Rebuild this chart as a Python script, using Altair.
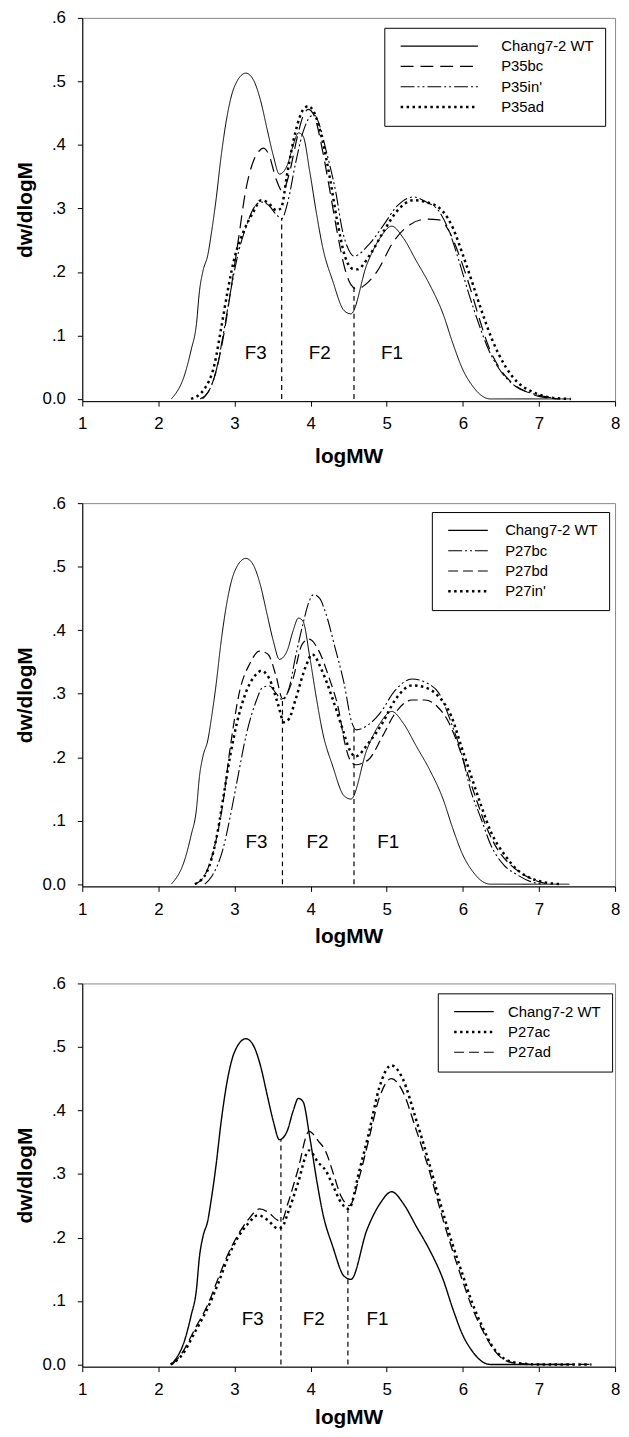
import altair as alt
import pandas as pd

FONT = "Liberation Sans"

X_TICKS = [1, 2, 3, 4, 5, 6, 7, 8]
Y_TICKS = [0.0, 0.1, 0.2, 0.3, 0.4, 0.5, 0.6]
F_LABELS = ["F3", "F2", "F1"]

# ---- Chang7-2 WT (same in all panels)
wt_x = [2.17, 2.35, 2.43, 2.50, 2.54, 2.585, 2.65, 2.70, 2.76, 2.82, 2.91, 3.0, 3.15, 3.25,
        3.34, 3.43, 3.51, 3.59, 3.69, 3.77, 3.84, 3.90, 3.99, 4.08, 4.16, 4.29, 4.44, 4.53,
        4.74, 4.91, 5.065, 5.22, 5.39, 5.56, 5.74, 5.87, 6.0, 6.13, 6.26, 6.36, 7.4]
wt_y = [0.0, 0.040, 0.077, 0.118, 0.170, 0.201, 0.227, 0.264, 0.316, 0.378, 0.450, 0.492, 0.513, 0.502,
        0.471, 0.424, 0.383, 0.354, 0.367, 0.399, 0.419, 0.414, 0.357, 0.290, 0.238, 0.186, 0.139, 0.134,
        0.212, 0.253, 0.272, 0.253, 0.217, 0.181, 0.134, 0.087, 0.046, 0.020, 0.004, 0.0, 0.0]

# ---- panel 1
p35bc_x = [2.55, 2.65, 2.75, 2.85, 2.95, 3.05, 3.15, 3.25, 3.32, 3.38, 3.45, 3.55, 3.63, 3.72, 3.82,
           3.9, 3.97, 4.05, 4.15, 4.25, 4.35, 4.45, 4.53, 4.61, 4.72, 4.87, 5.09, 5.30, 5.52, 5.69,
           5.82, 5.95, 6.08, 6.21, 6.34, 6.47, 6.65, 6.82, 7.0, 7.25]
p35bc_y = [0.0, 0.01, 0.04, 0.095, 0.17, 0.25, 0.33, 0.375, 0.39, 0.395, 0.385, 0.345, 0.327, 0.355, 0.41,
           0.445, 0.456, 0.445, 0.395, 0.33, 0.262, 0.205, 0.18, 0.173, 0.18, 0.20, 0.248, 0.274, 0.283, 0.282,
           0.264, 0.227, 0.181, 0.129, 0.082, 0.051, 0.025, 0.012, 0.004, 0.0]
p35in_x = [2.58, 2.65, 2.75, 2.85, 2.95, 3.05, 3.15, 3.25, 3.35, 3.45, 3.55, 3.62, 3.7, 3.8, 3.9, 4.0,
           4.05, 4.12, 4.2, 4.33, 4.42, 4.5, 4.57, 4.78, 4.96, 5.13, 5.35, 5.52, 5.69, 5.82, 5.95, 6.08,
           6.21, 6.34, 6.52, 6.69, 6.9, 7.07, 7.25]
p35in_y = [0.0, 0.01, 0.04, 0.10, 0.17, 0.23, 0.27, 0.30, 0.31, 0.305, 0.29, 0.284, 0.31, 0.37, 0.42, 0.445,
           0.447, 0.43, 0.393, 0.326, 0.264, 0.235, 0.225, 0.245, 0.274, 0.303, 0.318, 0.310, 0.295, 0.264, 0.217, 0.165,
           0.118, 0.077, 0.040, 0.020, 0.009, 0.004, 0.0]
p35ad_x = [2.43, 2.6, 2.74, 2.82, 2.91, 3.0, 3.12, 3.25, 3.35, 3.45, 3.55, 3.61, 3.7, 3.8, 3.9, 3.97,
           4.05, 4.15, 4.25, 4.35, 4.45, 4.55, 4.61, 4.78, 4.96, 5.13, 5.35, 5.52, 5.74, 5.87, 6.0, 6.13,
           6.26, 6.39, 6.56, 6.73, 6.9, 7.08, 7.25, 7.42]
p35ad_y = [0.0, 0.015, 0.056, 0.108, 0.170, 0.222, 0.264, 0.295, 0.313, 0.308, 0.297, 0.30, 0.36, 0.42, 0.455, 0.461,
           0.45, 0.41, 0.35, 0.28, 0.225, 0.205, 0.204, 0.227, 0.264, 0.295, 0.313, 0.310, 0.295, 0.269, 0.227, 0.181,
           0.134, 0.092, 0.051, 0.025, 0.012, 0.004, 0.001, 0.0]

# ---- panel 2
p27bc_x = [2.61, 2.7, 2.85, 2.95, 3.03, 3.16, 3.29, 3.37, 3.46, 3.55, 3.63, 3.72, 3.8, 3.9, 3.98, 4.04,
           4.12, 4.19, 4.32, 4.44, 4.54, 4.6, 4.76, 4.91, 5.11, 5.33, 5.54, 5.69, 5.85, 5.98, 6.1, 6.24,
           6.37, 6.54, 6.71, 6.89, 7.06]
p27bc_y = [0.0, 0.012, 0.056, 0.11, 0.16, 0.238, 0.29, 0.31, 0.312, 0.30, 0.29, 0.31, 0.357, 0.41, 0.445, 0.456,
           0.45, 0.43, 0.373, 0.316, 0.255, 0.243, 0.251, 0.269, 0.305, 0.323, 0.316, 0.30, 0.253, 0.207, 0.149, 0.103,
           0.061, 0.030, 0.015, 0.004, 0.0]
p27bd_x = [2.48, 2.6, 2.72, 2.85, 2.94, 3.07, 3.2, 3.33, 3.44, 3.55, 3.63, 3.76, 3.89, 3.98, 4.11, 4.24,
           4.37, 4.45, 4.52, 4.59, 4.76, 4.94, 5.11, 5.33, 5.5, 5.67, 5.8, 5.93, 6.06, 6.19, 6.32, 6.45,
           6.63, 6.8, 6.97, 7.15]
p27bd_y = [0.0, 0.012, 0.051, 0.129, 0.212, 0.305, 0.347, 0.367, 0.362, 0.326, 0.292, 0.32, 0.378, 0.386, 0.367, 0.326,
           0.274, 0.222, 0.195, 0.188, 0.196, 0.232, 0.269, 0.29, 0.29, 0.279, 0.258, 0.222, 0.175, 0.129, 0.087, 0.056,
           0.030, 0.015, 0.005, 0.0]
p27in_x = [2.48, 2.64, 2.77, 2.85, 2.94, 3.03, 3.16, 3.29, 3.35, 3.46, 3.57, 3.65, 3.72, 3.8, 3.94, 4.02,
           4.15, 4.28, 4.41, 4.52, 4.59, 4.76, 4.94, 5.11, 5.33, 5.5, 5.67, 5.85, 5.98, 6.11, 6.24, 6.37,
           6.55, 6.72, 6.9, 7.07, 7.29]
p27in_y = [0.0, 0.02, 0.077, 0.134, 0.20, 0.253, 0.305, 0.331, 0.336, 0.323, 0.284, 0.255, 0.261, 0.29, 0.344, 0.362,
           0.336, 0.295, 0.248, 0.21, 0.201, 0.222, 0.253, 0.29, 0.313, 0.31, 0.297, 0.264, 0.217, 0.170, 0.124, 0.082,
           0.046, 0.022, 0.009, 0.003, 0.0]

# ---- panel 3
p27ac_x = [2.16, 2.31, 2.48, 2.66, 2.79, 2.92, 3.05, 3.18, 3.31, 3.44, 3.57, 3.63, 3.7, 3.83, 3.98, 4.1,
           4.2, 4.3, 4.4, 4.5, 4.64, 4.77, 4.9, 5.06, 5.21, 5.38, 5.56, 5.73, 5.86, 5.99, 6.12, 6.25,
           6.38, 6.51, 6.69, 6.99, 7.69]
p27ac_y = [0.0, 0.015, 0.051, 0.092, 0.129, 0.170, 0.201, 0.222, 0.235, 0.227, 0.214, 0.217, 0.238, 0.284, 0.337, 0.318,
           0.305, 0.28, 0.255, 0.245, 0.305, 0.367, 0.435, 0.471, 0.45, 0.388, 0.316, 0.243, 0.191, 0.144, 0.098, 0.061,
           0.030, 0.012, 0.003, 0.0, 0.0]
p27ad_x = [2.18, 2.31, 2.48, 2.66, 2.79, 2.92, 3.05, 3.18, 3.33, 3.44, 3.57, 3.62, 3.7, 3.83, 3.98, 4.1,
           4.2, 4.3, 4.4, 4.51, 4.64, 4.77, 4.9, 5.06, 5.21, 5.38, 5.56, 5.73, 5.86, 5.99, 6.12, 6.25,
           6.38, 6.51, 6.69, 6.99, 7.69]
p27ad_y = [0.0, 0.018, 0.056, 0.097, 0.137, 0.175, 0.205, 0.228, 0.245, 0.24, 0.227, 0.226, 0.253, 0.305, 0.367, 0.352,
           0.335, 0.30, 0.265, 0.25, 0.295, 0.357, 0.419, 0.45, 0.43, 0.372, 0.305, 0.232, 0.181, 0.134, 0.090, 0.056,
           0.028, 0.010, 0.002, 0.0, 0.0]

# fraction boundaries (x, top) and label positions
p1_cut_x = [3.62, 4.57]
p1_cut_top = [0.285, 0.18]
p2_cut_x = [3.63, 4.57]
p2_cut_top = [0.29, 0.245]
p3_cut_x = [3.61, 4.49]
p3_cut_top = [0.354, 0.248]
p1_f_x = [3.28, 4.12, 5.07]
p2_f_x = [3.29, 4.09, 5.02]
p3_f_x = [3.24, 4.04, 4.88]
p1_f_y = 0.072
p2_f_y = 0.066
p3_f_y = 0.072

SOLID = [1, 0]
DOT = [2.5, 3.5]
DASH_LONG = [13, 7]
DASH = [10, 5]
DASHDOTDOT = [14, 3, 2, 3, 2, 3]


def make_df(series, widths):
    rows = []
    for (name, xs, ys), w in zip(series, widths):
        for i, (a, b) in enumerate(zip(xs, ys)):
            rows.append({"series": name, "x": a, "y": b, "order": i, "w": w})
    return pd.DataFrame(rows)


def panel(series, dashes, widths, thick_name, cut_x, cut_top, f_x, f_y, lx, ly, sym_len, gap,
          x_title_pad):
    names = [s[0] for s in series]
    df = make_df(series, widths)
    xs = alt.Scale(domain=[1, 8], nice=False, zero=False)
    ys = alt.Scale(domain=[-0.0035, 0.6], nice=False, zero=False)
    xenc = alt.X("x:Q", scale=xs, axis=alt.Axis(values=X_TICKS, title="logMW", format="d",
                                                labelPadding=10, titlePadding=x_title_pad))
    yenc = alt.Y("y:Q", scale=ys, axis=alt.Axis(
        values=Y_TICKS, title="dw/dlogM", labelPadding=12, titlePadding=7,
        labelExpr="datum.value == 0 ? '0.0' : '.' + format(round(datum.value*10), 'd')"))
    # legend symbol: a horizontal line of length sym_len drawn with a custom path
    k = sym_len / 2.0 - 1
    leg = alt.Legend(
        title=None, orient="none", legendX=lx, legendY=ly,
        symbolType="M-1,0H%g" % k, symbolSize=16, symbolStrokeColor="black",
        symbolFillColor="transparent",
        symbolStrokeWidth={"expr": 'datum.value == "%s" ? 2.5 : 1.1' % thick_name},
        labelFont=FONT, labelFontSize=15, labelColor="black",
        labelOffset=sym_len + gap - 6, padding=11,
        strokeColor="black", fillColor="white", rowPadding=4.5, labelLimit=0, cornerRadius=0)
    lines = alt.Chart(df).mark_line(interpolate="monotone", color="black", strokeCap="butt").encode(
        x=xenc, y=yenc,
        strokeDash=alt.StrokeDash("series:N", scale=alt.Scale(domain=names, range=dashes), legend=leg),
        strokeWidth=alt.StrokeWidth("w:Q", scale=None, legend=None),
        order="order:Q",
    )
    cdf = pd.DataFrame({"x": cut_x, "y0": [0.0] * len(cut_x), "y1": cut_top})
    rules = alt.Chart(cdf).mark_rule(color="black", strokeDash=[5, 4], strokeWidth=1.2).encode(
        x=alt.X("x:Q", scale=xs), y=alt.Y("y0:Q", scale=ys), y2="y1:Q")
    tdf = pd.DataFrame({"x": f_x, "y": [f_y] * len(f_x), "t": F_LABELS})
    texts = alt.Chart(tdf).mark_text(font=FONT, fontSize=19, color="black", align="center",
                                     baseline="middle").encode(
        x=alt.X("x:Q", scale=xs), y=alt.Y("y:Q", scale=ys), text="t:N")
    return alt.layer(lines, rules, texts).properties(width=538, height=387)


p1 = panel([("Chang7-2 WT", wt_x, wt_y), ("P35bc", p35bc_x, p35bc_y),
            ("P35in'", p35in_x, p35in_y), ("P35ad", p35ad_x, p35ad_y)],
           [SOLID, DASH_LONG, DASHDOTDOT, DOT], [1.0, 1.2, 1.1, 2.5], "P35ad",
           p1_cut_x, p1_cut_top, p1_f_x, p1_f_y, 305, 10, 78, 20, 14)
p2 = panel([("Chang7-2 WT", wt_x, wt_y), ("P27bc", p27bc_x, p27bc_y),
            ("P27bd", p27bd_x, p27bd_y), ("P27in'", p27in_x, p27in_y)],
           [SOLID, DASHDOTDOT, DASH, DOT], [1.0, 1.1, 1.2, 2.5], "P27in'",
           p2_cut_x, p2_cut_top, p2_f_x, p2_f_y, 353, 9, 40, 14, 9)
p3 = panel([("Chang7-2 WT", wt_x, wt_y), ("P27ac", p27ac_x, p27ac_y),
            ("P27ad", p27ad_x, p27ad_y)],
           [SOLID, DOT, DASH], [1.4, 2.5, 1.3], "P27ac",
           p3_cut_x, p3_cut_top, p3_f_x, p3_f_y, 359, 10, 40, 11, 9)

chart = alt.vconcat(p1, p2, p3, spacing=26).resolve_scale(
    x="independent", y="independent", strokeDash="independent"
).resolve_legend(strokeDash="independent").properties(
    padding={"left": 5, "top": -7, "right": 0, "bottom": 0}, background="white"
).configure_view(stroke="#888888", strokeWidth=1).configure_axis(
    labelFont=FONT, titleFont=FONT, labelFontSize=17, titleFontSize=21, titleFontWeight="bold",
    labelColor="black", titleColor="black", domainColor="black", tickColor="black",
    tickSize=5, grid=False, domainWidth=1, tickWidth=1, labelFlush=False, labelOverlap=False,
    labelBound=False
)

chart.save("out.html", embed_options={"renderer": "svg", "actions": False})
